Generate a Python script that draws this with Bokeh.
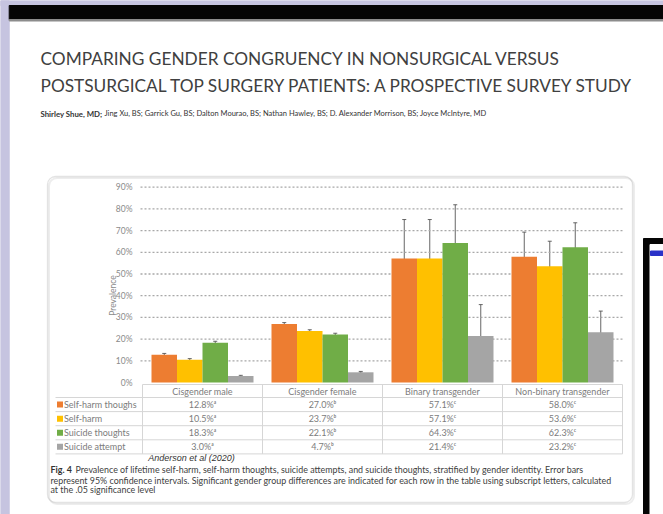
import numpy as np
from bokeh.plotting import figure
from bokeh.models import ColumnDataSource, Whisker, BoxAnnotation, Range1d, TeeHead
from bokeh.core.properties import value
from bokeh.embed import file_html
from bokeh.resources import INLINE

# ---------------- data ----------------
categories = ["Cisgender male", "Cisgender female", "Binary transgender", "Non-binary transgender"]
series = ["Self-harm thoughs", "Self-harm", "Suicide thoughts", "Suicide attempt"]
colors = ["#ED7D31", "#FFC000", "#70AD47", "#A5A5A5"]

self_harm_thoughts = [12.8, 27.0, 57.1, 58.0]
self_harm = [10.5, 23.7, 57.1, 53.6]
suicide_thoughts = [18.3, 22.1, 64.3, 62.3]
suicide_attempt = [3.0, 4.7, 21.4, 23.2]

self_harm_thoughts_lo = [12.2, 26.4, 38.6, 45.9]
self_harm_thoughts_hi = [13.4, 27.6, 75.1, 69.3]
self_harm_lo = [10.0, 23.1, 38.6, 40.9]
self_harm_hi = [11.0, 24.3, 75.1, 65.1]
suicide_thoughts_lo = [17.6, 21.5, 45.9, 50.1]
suicide_thoughts_hi = [19.0, 22.7, 81.9, 73.6]
suicide_attempt_lo = [2.7, 4.3, 5.5, 12.8]
suicide_attempt_hi = [3.3, 5.1, 35.9, 32.9]

sig_letters = ["\u1d43", "\u1d47", "\u1d9c", "\u1d9c"]

tick_values = [0, 10, 20, 30, 40, 50, 60, 70, 80, 90]
tick_labels = ["0%", "10%", "20%", "30%", "40%", "50%", "60%", "70%", "80%", "90%"]

title_lines = ["COMPARING GENDER CONGRUENCY IN NONSURGICAL VERSUS",
               "POSTSURGICAL TOP SURGERY PATIENTS: A PROSPECTIVE SURVEY STUDY"]
authors_bold = "Shirley Shue, MD;"
authors_rest = "Jing Xu, BS; Garrick Gu, BS; Dalton Mourao, BS; Nathan Hawley, BS; D. Alexander Morrison, BS; Joyce McIntyre, MD"
source_note = "Anderson et al (2020)"
caption_bold = "Fig. 4"
caption_lines = [
    "Prevalence of lifetime self-harm, self-harm thoughts, suicide attempts, and suicide thoughts, stratified by gender identity. Error bars",
    "represent 95% confidence intervals. Significant gender group differences are indicated for each row in the table using subscript letters, calculated",
    "at the .05 significance level",
]

values = [self_harm_thoughts, self_harm, suicide_thoughts, suicide_attempt]
lows = [self_harm_thoughts_lo, self_harm_lo, suicide_thoughts_lo, suicide_attempt_lo]
highs = [self_harm_thoughts_hi, self_harm_hi, suicide_thoughts_hi, suicide_attempt_hi]

# ---------------- layout (page pixels -> data units) ----------------
W, H = 663, 514
CAT0_PX = 202.0     # page x of first category centre
CAT_PX = 120.0      # pixels per category
ZERO_PX = 382.0     # page y of 0 %
PCT_PX = 2.17       # pixels per 1 %


def X(px):
    return (px - CAT0_PX) / CAT_PX


def Y(py):
    return (ZERO_PX - py) / PCT_PX


FONT = value("Lato")
TFS = "9px"
TCOL = "#7c7c7c"

p = figure(width=W, height=H, x_range=Range1d(X(0), X(W)), y_range=Range1d(Y(H), Y(0)),
           x_axis_type=None, y_axis_type=None, min_border=0, toolbar_location=None,
           output_backend="svg", outline_line_color=None, background_fill_color="white",
           border_fill_color="white")
p.grid.visible = False

# surroundings of the photographed poster
p.quad(left=X(0), right=X(8.7), top=Y(0), bottom=Y(H), color="#c6c4e0")
p.quad(left=X(0), right=X(W), top=Y(0), bottom=Y(5), color="#c6c4e0")
p.quad(left=X(8.7), right=X(W), top=Y(5), bottom=Y(19), color="#050505")
p.quad(left=X(8.7), right=X(W), top=Y(19), bottom=Y(20.5), color="#8c8c8c")

# neighbouring poster frame on the right
p.quad(left=X(643), right=X(W), top=Y(238), bottom=Y(H), color="#050505")
p.quad(left=X(649.5), right=X(W), top=Y(244), bottom=Y(H), color="white")
p.quad(left=X(650), right=X(W), top=Y(250.5), bottom=Y(255), color="#2a32c8")

# title + authors
p.text(x=[X(40), X(40)], y=[Y(58), Y(85)], text=title_lines, text_font=FONT,
       text_font_size="17.3px", text_color="#404040", text_baseline="middle")
p.text(x=[X(40)], y=[Y(113)], text=[authors_bold], text_font=FONT, text_font_style="bold",
       text_font_size="7.8px", text_color="#333333", text_baseline="middle")
p.text(x=[X(104)], y=[Y(113)], text=[authors_rest], text_font=FONT,
       text_font_size="7.5px", text_color="#333333", text_baseline="middle")

# chart box (shadow + border)
p.add_layout(BoxAnnotation(left=X(48.5), right=X(633.5), top=Y(177.5), bottom=Y(503.5),
                           fill_alpha=0, line_color="#c4c4c4", line_width=2, border_radius=8))
p.add_layout(BoxAnnotation(left=X(47), right=X(632), top=Y(176), bottom=Y(502),
                           fill_alpha=0, line_color="#a2a2a2", line_width=1.3, border_radius=8))

# grid lines
grid_vals = tick_values[1:]
p.segment(x0=[X(140)] * len(grid_vals), x1=[X(624)] * len(grid_vals), y0=grid_vals, y1=grid_vals,
          line_color="#a8a8a8", line_width=1.3, line_dash="2 2")

# y tick labels + title
p.text(x=[X(132)] * len(tick_values), y=tick_values, text=tick_labels, text_font=FONT,
       text_font_size="8.5px", text_color="#8a8a8a", text_align="right", text_baseline="middle")
p.text(x=[X(112)], y=[Y(295)], text=["Prevalence"], angle=np.pi / 2, text_font=FONT,
       text_font_size="8.5px", text_color="#8a8a8a", text_align="center", text_baseline="middle")

# bars + error bars
BW = 25.5 / CAT_PX
idx = np.arange(len(categories))
for j, name in enumerate(series):
    off = (j - 1.5) * BW
    src = ColumnDataSource(dict(x=idx + off, top=values[j], lo=lows[j], hi=highs[j]))
    p.vbar(x="x", top="top", bottom=0, width=BW, source=src, fill_color=colors[j],
           line_color=None)
    p.add_layout(Whisker(source=src, base="x", upper="hi", lower="lo", line_color="#555555",
                         line_width=0.9,
                         upper_head=TeeHead(size=4, line_color="#555555", line_width=0.9),
                         lower_head=TeeHead(size=4, line_color="#555555", line_width=0.9)))

# ---------------- table ----------------
LINE = "#d6d6d6"
top_py = 384.0
head_py = 397.0
row_px = 14.1
row_edges = [head_py + k * row_px for k in range(len(series) + 1)]
col_edges = [i - 0.5 for i in range(len(categories) + 1)]

p.segment(x0=[col_edges[0]], x1=[col_edges[-1]], y0=[Y(top_py)], y1=[Y(top_py)],
          line_color=LINE, line_width=1)
p.segment(x0=[X(55)] * len(row_edges), x1=[col_edges[-1]] * len(row_edges),
          y0=[Y(v) for v in row_edges], y1=[Y(v) for v in row_edges], line_color=LINE, line_width=1)
p.segment(x0=col_edges, x1=col_edges, y0=[Y(top_py)] * len(col_edges),
          y1=[Y(row_edges[-1])] * len(col_edges), line_color=LINE, line_width=1)

p.text(x=list(idx), y=[Y((top_py + head_py) / 2)] * len(categories), text=categories,
       text_font=FONT, text_font_size=TFS, text_color=TCOL, text_align="center",
       text_baseline="middle")

row_centres = [Y((row_edges[k] + row_edges[k + 1]) / 2) for k in range(len(series))]
p.rect(x=[X(59.5)] * len(series), y=row_centres, width=6, height=6, width_units="screen",
       height_units="screen", fill_color=colors, line_color=None)
p.text(x=[X(63.5)] * len(series), y=row_centres, text=series, text_font=FONT,
       text_font_size=TFS, text_color=TCOL, text_baseline="middle")

cell_x, cell_y, cell_t = [], [], []
for j in range(len(series)):
    for i in range(len(categories)):
        cell_x.append(i)
        cell_y.append(row_centres[j])
        cell_t.append(f"{values[j][i]:.1f}%{sig_letters[i]}")
p.text(x=cell_x, y=cell_y, text=cell_t, text_font=FONT, text_font_size=TFS,
       text_color=TCOL, text_align="center", text_baseline="middle")

# source + caption
p.text(x=[X(191)], y=[Y(457.5)], text=[source_note], text_font=value("Liberation Sans"),
       text_font_style="italic", text_font_size="9px", text_color="#333333",
       text_align="center", text_baseline="middle")
p.text(x=[X(50)], y=[Y(469)], text=[caption_bold], text_font=FONT, text_font_style="bold",
       text_font_size="8.9px", text_color="#333333", text_baseline="middle")
p.text(x=[X(75)], y=[Y(469)], text=[caption_lines[0]], text_font=FONT,
       text_font_size="8.9px", text_color="#404040", text_baseline="middle")
p.text(x=[X(50), X(50)], y=[Y(479.5), Y(489)], text=caption_lines[1:], text_font=FONT,
       text_font_size="8.9px", text_color="#404040", text_baseline="middle")

open("out.html", "w").write(file_html(p, INLINE))
